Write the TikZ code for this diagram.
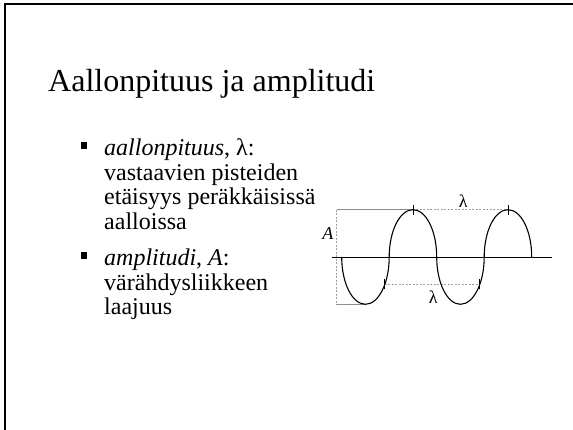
\documentclass[tikz,border=0pt]{standalone}
\usepackage{fontspec}
\setmainfont{Liberation Serif}
\usetikzlibrary{positioning}
\definecolor{guideGray}{HTML}{8C8C8C}
\definecolor{dashGray}{HTML}{A0A0A0}
\newcommand{\toplines}[1]{\vtop{\hsize=250pt\parindent=0pt\raggedright #1}}

\begin{document}
\begin{tikzpicture}[x=1pt, y=1pt,
    bulletsq/.style={fill=black, inner sep=0pt, minimum size=6.8pt},
    bodytext/.style={anchor=base west, inner sep=0pt,
        font=\fontsize{24}{24.4}\selectfont},
    wavelabel/.style={inner sep=0pt, font=\fontsize{18}{20}\selectfont},
    guide/.style={guideGray, line width=0.8pt},
    guidedash/.style={dashGray, line width=0.6pt, dash pattern=on 2pt off 1.5pt},
    wave/.style={line width=1.1pt}]

    \useasboundingbox (0,0) rectangle (573,430);

    % slide frame
    \draw[line width=2pt] (4.5,0) -- (4.5,425.5) -- (573,425.5);

    % title
    \node[anchor=base west, inner sep=0pt, font=\fontsize{32}{38}\selectfont]
        (title) at (48,338) {Aallonpituus ja amplitudi};

    % bullets
    \node[bulletsq] (b1) at (84,284.5) {};
    \node[bodytext] (t1) at (104,274) {\toplines{\textit{aallonpituus}, λ:\par
        vastaavien pisteiden\par etäisyys peräkkäisissä\par aalloissa}};
    \node[bulletsq] (b2) at (84,174.5) {};
    \node[bodytext] (t2) at (104,164) {\toplines{\textit{amplitudi}, \textit{A}:\par
        värähdysliikkeen\par laajuus}};

    % wave points
    \coordinate (ax1) at (332,173);
    \coordinate (ax2) at (552,173);
    \coordinate (w0) at (341.7,173);
    \coordinate (pk1) at (412.95,220.3);
    \coordinate (pk2) at (507.95,220.3);
    \coordinate (tr1) at (365.45,125.7);
    \coordinate (aTop) at (336.7,220.3);
    \coordinate (aBot) at (336.7,125.7);
    \coordinate (lo1) at (384.8,145.7);
    \coordinate (lo2) at (479.8,145.7);

    % amplitude guides
    \draw[guide] (aTop) -- (pk1);
    \draw[guide] (aBot) -- (tr1);
    \draw[guidedash] (aTop) -- (aBot);
    \draw[guidedash] (pk1) -- (pk2);
    \draw[guidedash] (lo1) -- (lo2);

    % axis
    \draw[line width=0.9pt] (ax1) -- (ax2);

    % wave
    \draw[wave] (w0)
        arc[start angle=180, end angle=360, x radius=23.75, y radius=47.3]
        arc[start angle=180, end angle=0, x radius=23.75, y radius=47.3]
        arc[start angle=180, end angle=360, x radius=23.75, y radius=47.3]
        arc[start angle=180, end angle=0, x radius=23.75, y radius=47.3];

    % ticks
    \foreach \p in {pk1,pk2,lo1,lo2} {
        \draw[line width=0.8pt] ([yshift=-5pt]\p) -- ([yshift=5pt]\p);
    }

    % labels
    \node[wavelabel] (lamUp) at (463.3,228.5) {λ};
    \node[wavelabel] (lamLo) at (433.3,133) {λ};
    \node[wavelabel] (ampA) at (328,196) {\textit{A}};

\end{tikzpicture}
\end{document}
